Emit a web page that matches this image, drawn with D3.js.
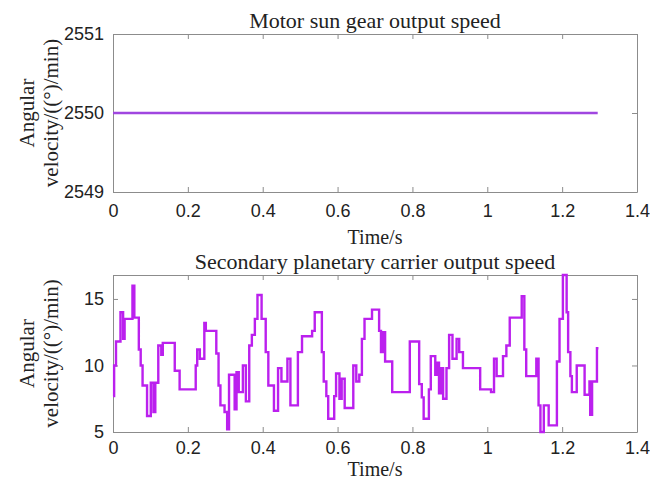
<!DOCTYPE html>
<html>
<head>
<meta charset="utf-8">
<script src="https://cdn.jsdelivr.net/npm/d3@7"></script>
<style>
  body { margin: 0; background: #fff; }
  .tick text { font-family: "Liberation Sans", Arial, sans-serif; }
</style>
</head>
<body>
<div id="chart"></div>
<script>
// Data

var xTicks = [0, 0.2, 0.4, 0.6, 0.8, 1, 1.2, 1.4];

// motor sun gear: constant speed
var sunTime = [0, 1.295];
var sunSpeed = [2550, 2550];
var sunTicks = [2549, 2550, 2551];

// secondary planetary carrier: stepped speed
var carrierTime = [0.000, 0.003, 0.008, 0.020, 0.027, 0.031, 0.052, 0.057, 0.069, 0.074,
  0.079, 0.091, 0.101, 0.108, 0.113, 0.121, 0.129, 0.133, 0.165, 0.178,
  0.221, 0.225, 0.232, 0.244, 0.248, 0.276, 0.282, 0.287, 0.298, 0.305,
  0.310, 0.325, 0.330, 0.336, 0.347, 0.355, 0.364, 0.371, 0.379, 0.386,
  0.397, 0.408, 0.415, 0.430, 0.441, 0.450, 0.466, 0.474, 0.494, 0.505,
  0.532, 0.539, 0.558, 0.563, 0.570, 0.575, 0.591, 0.596, 0.605, 0.611,
  0.619, 0.642, 0.650, 0.658, 0.665, 0.672, 0.692, 0.711, 0.716, 0.722,
  0.727, 0.746, 0.793, 0.818, 0.825, 0.830, 0.844, 0.849, 0.861, 0.866,
  0.871, 0.877, 0.882, 0.891, 0.898, 0.907, 0.918, 0.925, 0.935, 0.981,
  1.010, 1.018, 1.025, 1.042, 1.051, 1.060, 1.092, 1.099, 1.104, 1.131,
  1.137, 1.142, 1.151, 1.164, 1.186, 1.193, 1.202, 1.212, 1.216, 1.222,
  1.226, 1.239, 1.260, 1.273, 1.275, 1.280, 1.293, 1.297];
var carrierSpeed = [7.7, 10.0, 11.8, 14.0, 12.0, 13.5, 16.0, 13.6, 11.2, 10.0,
  8.5, 6.2, 8.7, 6.5, 8.7, 11.5, 10.8, 11.7, 9.6, 8.2,
  10.0, 11.2, 10.5, 13.2, 12.6, 10.9, 8.5, 7.0, 6.5, 5.2,
  9.3, 6.7, 9.5, 8.0, 10.0, 7.3, 11.5, 12.3, 13.5, 15.3,
  13.5, 11.0, 8.5, 6.6, 9.8, 8.8, 10.5, 7.0, 11.0, 12.2,
  12.6, 14.0, 11.0, 8.8, 7.7, 6.0, 7.7, 9.4, 7.5, 9.0,
  6.8, 10.0, 8.8, 9.3, 12.0, 13.5, 14.2, 12.6, 11.0, 12.5,
  10.3, 8.0, 11.8, 8.6, 7.6, 6.0, 8.2, 10.7, 9.3, 10.2,
  7.9, 9.8, 7.5, 9.8, 12.3, 10.5, 12.0, 11.0, 9.8, 8.2,
  8.0, 10.5, 9.2, 10.7, 11.5, 13.6, 15.2, 11.2, 9.2, 10.5,
  7.0, 5.0, 7.0, 5.5, 10.3, 13.5, 16.8, 14.0, 11.0, 9.2,
  8.0, 10.0, 7.8, 8.8, 6.3, 8.8, 11.3, 11.3];
var carrierTicks = [5, 10, 15];

var svgWidth = 650;
var svgHeight = 486;

var svg = d3.select("#chart")
  .append("svg")
  .attr("width", svgWidth)
  .attr("height", svgHeight)
  .style("background", "#fff");

// draw one MATLAB-like panel
function drawPanel(opts) {
  var x = d3.scaleLinear().domain([0, 1.4]).range([opts.left, opts.right]);
  var y = d3.scaleLinear().domain(opts.yDomain).range([opts.bottom, opts.top]);
  var g = svg.append("g");

  // ticks inside on all four sides
  g.append("g")
    .attr("transform", `translate(0,${opts.bottom})`)
    .call(d3.axisBottom(x).tickValues(xTicks).tickSizeInner(-5).tickSizeOuter(0).tickPadding(opts.pad).tickFormat(d3.format("")));
  g.append("g")
    .attr("transform", `translate(0,${opts.top})`)
    .call(d3.axisTop(x).tickValues(xTicks).tickSizeInner(-5).tickSizeOuter(0).tickFormat(""));
  g.append("g")
    .attr("transform", `translate(${opts.left},0)`)
    .call(d3.axisLeft(y).tickValues(opts.yTicks).tickSizeInner(-5).tickSizeOuter(0).tickPadding(9).tickFormat(d3.format("d")));
  g.append("g")
    .attr("transform", `translate(${opts.right},0)`)
    .call(d3.axisRight(y).tickValues(opts.yTicks).tickSizeInner(-5).tickSizeOuter(0).tickFormat(""));

  g.selectAll(".domain, .tick line").attr("stroke", "#8c8c8c");
  g.selectAll(".tick text").attr("font-size", "18px").attr("fill", "#222");

  var pts = opts.time.map((t, i) => [t, opts.speed[i]]);
  g.append("path")
    .datum(pts)
    .attr("fill", "none")
    .attr("stroke", opts.color)
    .attr("stroke-width", 2.4)
    .attr("d", d3.line().curve(d3.curveStepAfter).x(d => x(d[0])).y(d => y(d[1])));

  // title
  svg.append("text")
    .attr("x", (opts.left + opts.right) / 2)
    .attr("y", opts.top - 6)
    .attr("text-anchor", "middle")
    .attr("font-family", "Liberation Serif, serif")
    .attr("font-size", "22px")
    .attr("fill", "#222")
    .text(opts.title);

  // x label
  svg.append("text")
    .attr("x", (opts.left + opts.right) / 2)
    .attr("y", opts.bottom + opts.xlab)
    .attr("text-anchor", "middle")
    .attr("font-family", "Liberation Serif, serif")
    .attr("font-size", "20px")
    .attr("fill", "#222")
    .text("Time/s");

  // y label, two lines
  var cy = (opts.top + opts.bottom) / 2;
  var yl = svg.append("text")
    .attr("transform", `translate(0,${cy}) rotate(-90)`)
    .attr("text-anchor", "middle")
    .attr("font-family", "Liberation Serif, serif")
    .attr("font-size", "21px")
    .attr("fill", "#222");
  yl.append("tspan").attr("x", 0).attr("y", 34).text("Angular");
  yl.append("tspan").attr("x", 0).attr("y", 58).text("velocity/((°)/min)");
}

drawPanel({
  left: 113, right: 637, top: 34, bottom: 192,
  yDomain: [2549, 2551], yTicks: sunTicks,
  time: sunTime, speed: sunSpeed,
  color: "#a046e0", pad: 12, xlab: 52,
  title: "Motor sun gear output speed"
});

drawPanel({
  left: 113, right: 637, top: 275, bottom: 432,
  yDomain: [5, 16.8], yTicks: carrierTicks,
  time: carrierTime, speed: carrierSpeed,
  color: "#bb20ee", pad: 9, xlab: 44,
  title: "Secondary planetary carrier output speed"
});
</script>
</body>
</html>
